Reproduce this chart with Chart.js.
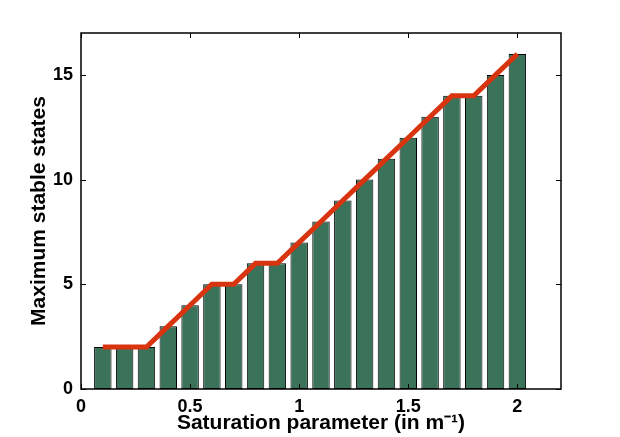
<!DOCTYPE html>
<html>
<head>
<meta charset="utf-8">
<script src="https://cdn.jsdelivr.net/npm/chart.js@4"></script>
<style>
  html, body { margin: 0; padding: 0; background: #fff; }
  #wrap { width: 620px; height: 437px; }
</style>
</head>
<body>
<div id="wrap"><canvas id="myChart" width="620" height="437"></canvas></div>
<script>
const saturation = [0.1, 0.2, 0.3, 0.4, 0.5, 0.6, 0.7, 0.8, 0.9, 1.0,
                    1.1, 1.2, 1.3, 1.4, 1.5, 1.6, 1.7, 1.8, 1.9, 2.0];
const maxStates = [2, 2, 2, 3, 4, 5, 5, 6, 6, 7, 8, 9, 10, 11, 12, 13, 14, 14, 15, 16];
const xTicks = [0, 0.5, 1, 1.5, 2];
const yTicks = [0, 5, 10, 15];

const points = saturation.map((s, i) => ({ x: s, y: maxStates[i] }));
const FONT = '"Liberation Sans", Arial, Helvetica, sans-serif';

// matlab style box with inward ticks
const boxTicks = {
  id: 'boxTicks',
  afterDraw(chart) {
    const { ctx, chartArea: a, scales } = chart;
    ctx.save();
    ctx.strokeStyle = '#000';
    ctx.lineWidth = 1;
    ctx.beginPath();
    xTicks.forEach(v => {
      const px = Math.round(scales.x.getPixelForValue(v)) + 0.5;
      ctx.moveTo(px, a.bottom); ctx.lineTo(px, a.bottom - 5);
      ctx.moveTo(px, a.top); ctx.lineTo(px, a.top + 5);
    });
    yTicks.forEach(v => {
      const py = Math.round(scales.y.getPixelForValue(v)) + 0.5;
      ctx.moveTo(a.left, py); ctx.lineTo(a.left + 5, py);
      ctx.moveTo(a.right, py); ctx.lineTo(a.right - 5, py);
    });
    ctx.stroke();
    ctx.lineWidth = 1.5;
    ctx.strokeRect(a.left, a.top, a.right - a.left, a.bottom - a.top);
    ctx.restore();
  }
};

new Chart(document.getElementById('myChart').getContext('2d'), {
  type: 'bar',
  data: {
    datasets: [
      {
        type: 'line',
        data: points,
        borderColor: '#d8340f',
        borderWidth: 5,
        pointRadius: 0,
        tension: 0,
        order: 0
      },
      {
        type: 'bar',
        data: points,
        backgroundColor: '#3b725a',
        borderColor: '#000',
        borderWidth: 1,
        borderSkipped: false,
        barPercentage: 1,
        categoryPercentage: 0.8,
        order: 1
      }
    ]
  },
  options: {
    responsive: false,
    animation: false,
    layout: { padding: { left: 0, top: 33, right: 59, bottom: 0 } },
    plugins: { legend: { display: false }, tooltip: { enabled: false } },
    scales: {
      x: {
        type: 'linear',
        min: 0,
        max: 2.2,
        offset: false,
        afterFit: s => { s.height = 48; },
        afterBuildTicks: s => { s.ticks = xTicks.map(v => ({ value: v })); },
        grid: { display: false, drawTicks: false },
        border: { display: false },
        ticks: {
          color: '#000', padding: 7, maxRotation: 0,
          callback: v => String(v),
          font: { family: FONT, size: 18, weight: 'bold' }
        },
        title: {
          display: true,
          text: 'Saturation parameter (in m\u207B\u00B9)',
          color: '#000',
          padding: { top: 0, bottom: 1 },
          font: { family: FONT, size: 21, weight: 'bold' }
        }
      },
      y: {
        min: 0,
        max: 17,
        afterFit: s => { s.width = 81; },
        afterBuildTicks: s => { s.ticks = yTicks.map(v => ({ value: v })); },
        grid: { display: false, drawTicks: false },
        border: { display: false },
        ticks: { color: '#000', padding: 8, font: { family: FONT, size: 18, weight: 'bold' } },
        title: {
          display: true,
          text: 'Maximum stable states',
          color: '#000',
          padding: { top: 27, bottom: 0 },
          font: { family: FONT, size: 21, weight: 'bold' }
        }
      }
    }
  },
  plugins: [boxTicks]
});
</script>
</body>
</html>
